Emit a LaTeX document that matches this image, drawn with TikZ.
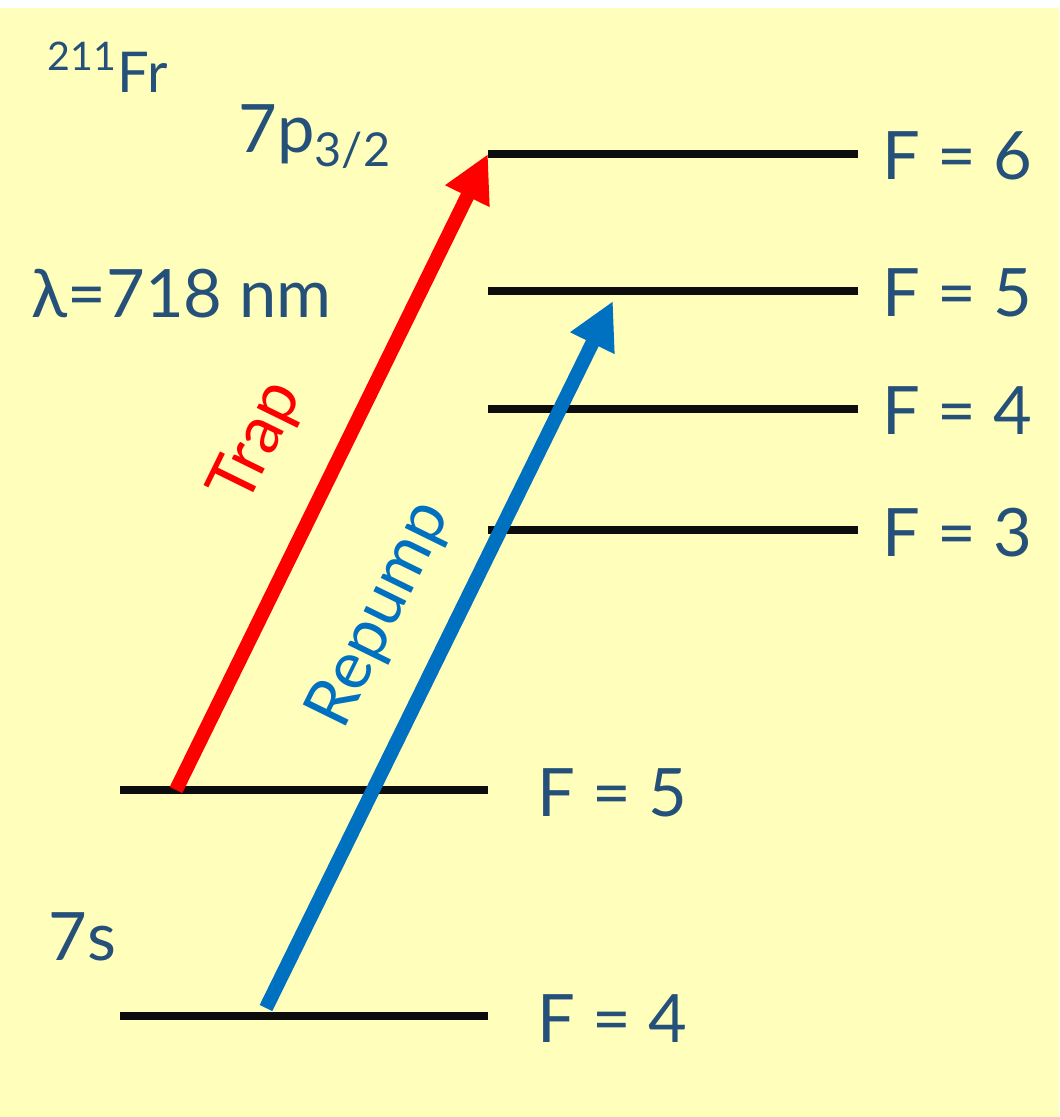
\documentclass[tikz,border=0pt]{standalone}
\usepackage{fontspec}
\setmainfont{Lato}
\usetikzlibrary{arrows.meta}
\definecolor{paper}{HTML}{FFFFBB}
\definecolor{ink}{HTML}{24507A}
\definecolor{trapred}{HTML}{FF0000}
\definecolor{pumpblue}{HTML}{0070C0}
\definecolor{bar}{HTML}{0D0D0D}
\tikzset{
  lvl/.style ={draw=bar, line width=2.3pt},
  beam/.style={line width=4pt, -{Triangle[length=4.7mm,width=4.6mm]}},
  flab/.style={font=\fontsize{19}{23}\selectfont, text=ink, inner sep=0pt, anchor=base west},
  blab/.style={font=\fontsize{19}{23}\selectfont, inner sep=0pt, rotate=63.86},
}

\begin{document}
\begin{tikzpicture}[x=0.1mm,y=-0.1mm]
    \useasboundingbox (0,0) rectangle (1059,1117);
    \fill[paper] (0,8) rectangle (1059,1117);
    % excited state 7p3/2
    \foreach \y/\f in {154/6,291/5,409/4,530/3} {
      \draw[lvl] (488,\y) coordinate (u\f) -- (858,\y);
      \node[flab] (fu\f) at (882,\y+26) {F = \f};
    }
    % ground state 7s
    \foreach \y/\f in {790/5,1016/4} {
      \draw[lvl] (120,\y) -- (488,\y);
      \node[flab] (fg\f) at (537,\y+26) {F = \f};
    }
    \node[flab,font=\fontsize{16}{20}\selectfont] (iso) at (47,93) {\textsuperscript{211}Fr};
    \node[flab] (pst) at (238,153) {7p\textsubscript{3/2}};
    \node[flab] (lam) at (31,318) {λ=718 nm};
    \node[flab] (sst) at (48,960) {7s};
    % lasers
    \coordinate (trapfrom) at (176,790);
    \coordinate (pumpfrom) at (266,1008);
    \coordinate (pumpto) at (613,301);
    \draw[beam,trapred] (trapfrom) -- (u6);
    \draw[beam,pumpblue] (pumpfrom) -- (pumpto);
    \node[blab,text=trapred] (trapl) at (258,443) {Trap};
    \node[blab,text=pumpblue] (pumpl) at (380,615) {Repump};
\end{tikzpicture}
\end{document}
